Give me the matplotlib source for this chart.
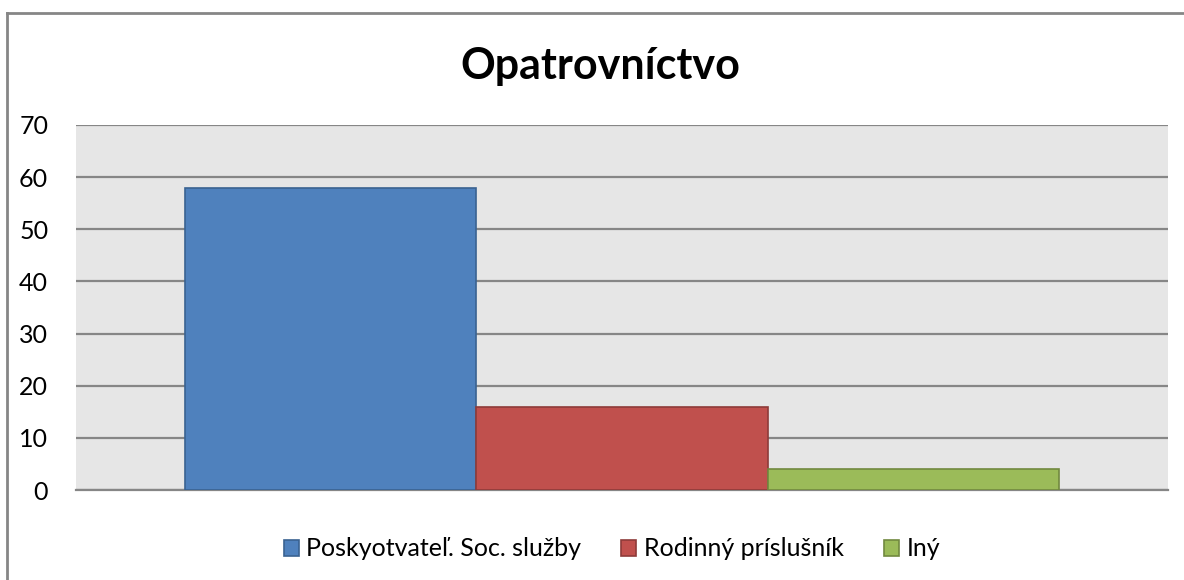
import matplotlib
matplotlib.use("Agg")
import matplotlib.pyplot as plt
from matplotlib.lines import Line2D
from matplotlib.patches import Patch

title = "Opatrovníctvo"
series = ["Poskyotvateľ. Soc. služby", "Rodinný príslušník", "Iný"]
values = [58, 16, 4]
colors = ["#4F81BD", "#C0504D", "#9BBB59"]
edges = ["#3A6291", "#8E3B39", "#71893F"]
yticks = [0, 10, 20, 30, 40, 50, 60, 70]

W, H = 1184, 580
fig = plt.figure(figsize=(W / 100, H / 100), dpi=100)
plt.rcParams['font.family'] = ['Lato', 'DejaVu Sans']

ax = fig.add_axes([76 / W, (H - 490) / H, 1092 / W, 365 / H])
ax.set_facecolor("#E6E6E6")

group = 0.8
bw = group / len(values)
for i, (name, v, c, e) in enumerate(zip(series, values, colors, edges)):
    x = -group / 2 + bw * (i + 0.5)
    ax.bar(x, v, width=bw, color=c, edgecolor=e, linewidth=1.2, label=name, zorder=3)

ax.set_xlim(-0.5, 0.5)
ax.set_ylim(0, 70)
ax.set_yticks(yticks)
ax.set_xticks([])
ax.yaxis.grid(True, color="#868686", linewidth=1.6, zorder=1)
ax.set_axisbelow(True)
for s in ["top", "right", "left"]:
    ax.spines[s].set_visible(False)
ax.spines["bottom"].set_color("#868686")
ax.spines["bottom"].set_linewidth(1.6)
ax.tick_params(axis="y", length=0, pad=20, labelsize=18, colors="black")

fig.text(600 / W, 1 - 66 / H, title, ha="center", va="center",
         fontsize=31, fontweight="bold")

handles = [Patch(facecolor=c, edgecolor=e, linewidth=1.2) for c, e in zip(colors, edges)]
fig.legend(handles, series, loc="center", bbox_to_anchor=(612 / W, 1 - 549 / H),
           ncol=3, frameon=False, fontsize=18, handlelength=0.6, handleheight=0.6,
           handletextpad=0.3, columnspacing=1.6)

fig.add_artist(Line2D([7 / W, 7 / W], [-0.05, 1 - 13 / H], transform=fig.transFigure,
                      color="#868686", linewidth=2))
fig.add_artist(Line2D([7 / W, 1.05], [1 - 13 / H, 1 - 13 / H], transform=fig.transFigure,
                      color="#868686", linewidth=2))

fig.savefig("out.png", dpi=100, facecolor="white")
